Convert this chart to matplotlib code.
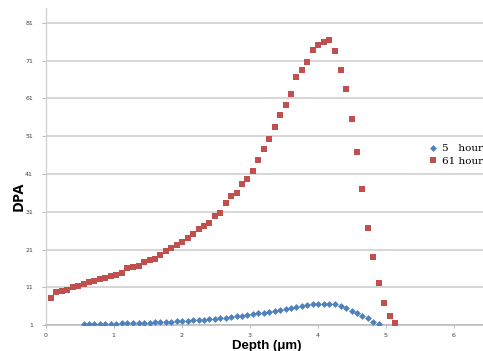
import matplotlib
matplotlib.use("Agg")
import matplotlib.pyplot as plt
from matplotlib.lines import Line2D

# Depth profiles of displacements per atom (DPA)
depth_61h = [0.08, 0.16, 0.24, 0.32, 0.40, 0.48, 0.56, 0.64, 0.72, 0.80,
             0.88, 0.96, 1.04, 1.12, 1.20, 1.29, 1.37, 1.45, 1.53, 1.61,
             1.69, 1.77, 1.85, 1.93, 2.01, 2.09, 2.17, 2.25, 2.33, 2.41,
             2.49, 2.57, 2.65, 2.73, 2.81, 2.89, 2.97, 3.05, 3.13, 3.21,
             3.29, 3.37, 3.45, 3.53, 3.61, 3.69, 3.77, 3.85, 3.93, 4.01,
             4.09, 4.17, 4.25, 4.34, 4.42, 4.50, 4.58, 4.66, 4.74, 4.82,
             4.90, 4.98, 5.06, 5.14]
dpa_61h = [8.1, 9.7, 9.9, 10.4, 11.0, 11.4, 11.8, 12.3, 12.6, 13.1,
           13.5, 13.9, 14.3, 14.9, 16.2, 16.4, 16.5, 17.7, 18.3, 18.6,
           19.5, 20.6, 21.4, 22.2, 22.9, 24.1, 25.1, 26.5, 27.3, 28.1,
           30.0, 30.8, 33.4, 35.1, 36.0, 38.3, 39.8, 41.8, 44.8, 47.7,
           50.4, 53.5, 56.6, 59.2, 62.3, 66.8, 68.5, 70.8, 73.8, 75.3,
           75.9, 76.4, 73.5, 68.5, 63.4, 55.5, 46.8, 37.1, 26.7, 19.1,
           12.0, 6.9, 3.5, 1.6]

depth_5h = [0.56, 0.64, 0.72, 0.80, 0.88, 0.96, 1.04, 1.12, 1.20, 1.29,
            1.37, 1.45, 1.53, 1.61, 1.69, 1.77, 1.85, 1.93, 2.01, 2.09,
            2.17, 2.25, 2.33, 2.41, 2.49, 2.57, 2.65, 2.73, 2.81, 2.89,
            2.97, 3.05, 3.13, 3.21, 3.29, 3.37, 3.45, 3.53, 3.61, 3.69,
            3.77, 3.85, 3.93, 4.01, 4.09, 4.17, 4.25, 4.34, 4.42, 4.50,
            4.58, 4.66, 4.74, 4.82, 4.90]
dpa_5h = [1.18, 1.22, 1.25, 1.28, 1.30, 1.33, 1.36, 1.40, 1.44, 1.48,
          1.52, 1.57, 1.62, 1.68, 1.74, 1.80, 1.87, 1.95, 2.03, 2.12,
          2.22, 2.32, 2.42, 2.52, 2.62, 2.76, 2.94, 3.12, 3.30, 3.47,
          3.65, 3.87, 4.07, 4.28, 4.52, 4.76, 4.98, 5.22, 5.50, 5.78,
          6.02, 6.22, 6.45, 6.60, 6.68, 6.62, 6.45, 6.05, 5.45, 4.75,
          4.10, 3.40, 2.75, 1.90, 1.18]

series_labels = ["5   hour", "61 hour"]
x_ticks = [0, 1, 2, 3, 4, 5, 6]
y_ticks = [1, 11, 21, 31, 41, 51, 61, 71, 81]

blue = "#4F81BD"
red = "#C0504D"
grid_gray = "#d3d3d3"

W, H = 483, 351
fig = plt.figure(figsize=(W / 100, H / 100), dpi=100)
x0_px, y0_px, ytop_px = 45.5, 325, 8
ax = fig.add_axes([x0_px / W, (H - y0_px) / H, 1 - x0_px / W, (y0_px - ytop_px) / H])

ax.set_xlim(0, (W - x0_px) / 68.0)
ax.set_ylim(1, 1 + (y0_px - ytop_px) / 3.775)

ax.plot(depth_5h, dpa_5h, linestyle="none", marker="D", markersize=3.5,
        color=blue, markeredgewidth=0, zorder=3)
ax.plot(depth_61h, dpa_61h, linestyle="none", marker="s", markersize=4.0,
        color=red, markeredgewidth=0, zorder=3)

ax.set_xticks(x_ticks)
ax.set_yticks(y_ticks)
ax.set_xticklabels([str(v) for v in x_ticks])
ax.set_yticklabels([str(v) for v in y_ticks])
ax.tick_params(axis="both", labelsize=4.5, labelcolor="#404040", color="#bfbfbf")
ax.tick_params(axis="x", direction="out", length=2.5, width=0.8, pad=3.5)
ax.tick_params(axis="y", direction="out", length=3, width=0.8, pad=6)

ax.yaxis.grid(True, color=grid_gray, linewidth=1.3)
ax.set_axisbelow(True)
for side in ("top", "right"):
    ax.spines[side].set_visible(False)
ax.spines["left"].set_color(grid_gray)
ax.spines["left"].set_linewidth(1.0)
ax.spines["bottom"].set_color("#c0c0c0")
ax.spines["bottom"].set_linewidth(1.3)

fig.text(267 / W, 1 - 348.5 / H, "Depth (\u03bcm)", ha="center", va="baseline",
         fontsize=9.5, fontweight="bold", family="Liberation Sans")
fig.text(19 / W, 1 - 196 / H, "DPA", ha="center", va="center", rotation=90,
         fontsize=10.5, fontweight="bold", family="Open Sans")

handles = [
    Line2D([], [], linestyle="none", marker="D", markersize=3.5, color=blue,
           markeredgewidth=0),
    Line2D([], [], linestyle="none", marker="s", markersize=4.0, color=red,
           markeredgewidth=0),
]
ax.legend(handles, series_labels, loc="center left",
          bbox_to_anchor=(429 / W, 1 - 155 / H), bbox_transform=fig.transFigure,
          frameon=False, handlelength=0.8, handletextpad=0.4, labelspacing=0.35,
          borderaxespad=0, borderpad=0,
          prop={"family": "DejaVu Serif", "size": 7.5})

fig.savefig("out.png", dpi=100, facecolor="white")
